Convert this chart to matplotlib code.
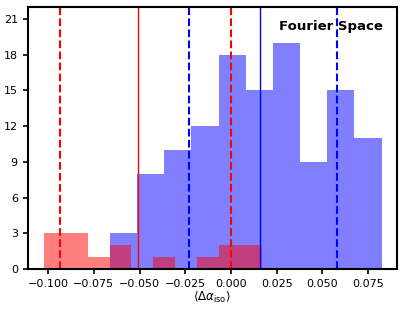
import numpy as np
import matplotlib
matplotlib.use("Agg")
import matplotlib.pyplot as plt

# Fourier-space histogram data
blue_counts = [3, 8, 10, 12, 18, 15, 19, 9, 15, 11]
blue_range = (-0.0662, 0.0824)
red_counts = [3, 3, 1, 2, 0, 1, 0, 1, 2, 2]
red_range = (-0.1021, 0.0171)

red_mean = -0.0509
red_bounds = [-0.0938, 0.0000]
blue_mean = 0.0160
blue_bounds = [-0.0231, 0.0580]

xticks = [-0.100, -0.075, -0.050, -0.025, 0.000, 0.025, 0.050, 0.075]
yticks = [0, 3, 6, 9, 12, 15, 18, 21]
label_text = "Fourier Space"

fig = plt.figure(figsize=(4.05, 3.11), dpi=100)
ax = fig.add_axes([0.068, 0.135, 0.912, 0.8425])

be = np.linspace(blue_range[0], blue_range[1], len(blue_counts) + 1)
re = np.linspace(red_range[0], red_range[1], len(red_counts) + 1)
ax.hist(0.5 * (be[:-1] + be[1:]), bins=be, weights=blue_counts,
        color="blue", alpha=0.5)
ax.hist(0.5 * (re[:-1] + re[1:]), bins=re, weights=red_counts,
        color="red", alpha=0.5)

ax.axvline(red_mean, color="red", lw=1.0)
for v in red_bounds:
    ax.axvline(v, color="red", lw=1.5, ls="--")
ax.axvline(blue_mean, color="blue", lw=1.0)
for v in blue_bounds:
    ax.axvline(v, color="blue", lw=1.5, ls="--")

ax.set_xlim(-0.1113, 0.0908)
ax.set_ylim(0, 22)
ax.set_xticks(xticks)
ax.set_xticklabels([f"{t:.3f}".replace("-", "\u2212") for t in xticks])
ax.set_yticks(yticks)
ax.tick_params(labelsize=8, width=1.2, length=3.5)
for s in ax.spines.values():
    s.set_linewidth(1.5)

ax.set_xlabel(r"$\langle \Delta\alpha_{\rm iso} \rangle$", fontsize=8.5, labelpad=1)
ax.text(0.821, 0.924, label_text, transform=ax.transAxes, ha="center",
        va="center", fontsize=9.5, fontweight="bold")

fig.savefig("out.png", dpi=100)
